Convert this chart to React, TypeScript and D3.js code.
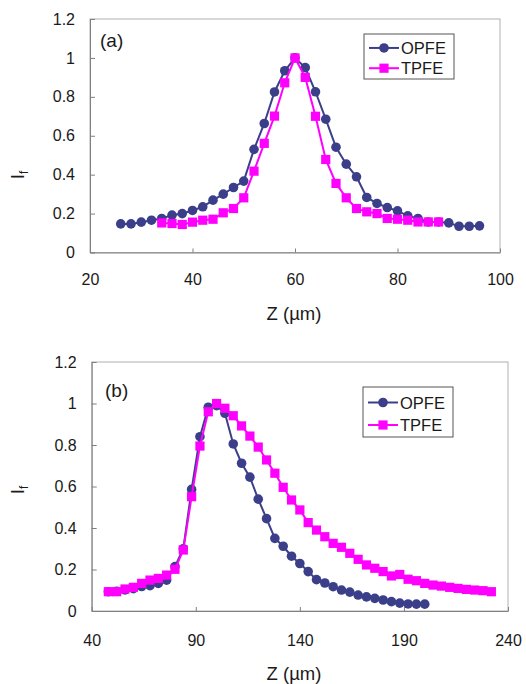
import React, { useEffect, useRef } from 'react';
import * as d3 from 'd3';

// panel (a)
const aOpfeZ = [26, 28, 30, 32, 34, 36, 38, 40, 42, 44, 46, 48, 50, 52, 54, 56, 58, 60, 62, 64, 66, 68, 70, 72, 74, 76, 78, 80, 82, 84, 86, 88, 90, 92, 94, 96];
const aOpfeI = [0.147, 0.147, 0.156, 0.166, 0.175, 0.192, 0.2, 0.216, 0.235, 0.269, 0.3, 0.334, 0.367, 0.53, 0.663, 0.825, 0.934, 1.0, 0.95, 0.826, 0.685, 0.541, 0.454, 0.389, 0.283, 0.252, 0.231, 0.214, 0.188, 0.175, 0.157, 0.157, 0.152, 0.135, 0.135, 0.137];
const aTpfeZ = [34, 36, 38, 40, 42, 44, 46, 48, 50, 52, 54, 56, 58, 60, 62, 64, 66, 68, 70, 72, 74, 76, 78, 80, 82, 84, 86, 88];
const aTpfeI = [0.152, 0.149, 0.144, 0.156, 0.166, 0.171, 0.204, 0.226, 0.281, 0.418, 0.561, 0.701, 0.872, 1.0, 0.9, 0.7, 0.478, 0.355, 0.281, 0.226, 0.209, 0.2, 0.175, 0.171, 0.166, 0.157, 0.157, 0.157];
const aXTicks = [20, 40, 60, 80, 100];

// panel (b)
const bOpfeZ = [48, 52, 56, 60, 64, 68, 72, 76, 80, 84, 88, 92, 96, 100, 104, 108, 112, 116, 120, 124, 128, 132, 136, 140, 144, 148, 152, 156, 160, 164, 168, 172, 176, 180, 184, 188, 192, 196, 200];
const bOpfeI = [0.093, 0.095, 0.102, 0.108, 0.118, 0.122, 0.133, 0.149, 0.214, 0.3, 0.586, 0.84, 0.982, 0.99, 0.953, 0.805, 0.712, 0.645, 0.539, 0.445, 0.35, 0.312, 0.264, 0.229, 0.19, 0.151, 0.135, 0.117, 0.101, 0.091, 0.077, 0.068, 0.061, 0.053, 0.045, 0.038, 0.034, 0.033, 0.033];
const bTpfeZ = [48, 52, 56, 60, 64, 68, 72, 76, 80, 84, 88, 92, 96, 100, 104, 108, 112, 116, 120, 124, 128, 132, 136, 140, 144, 148, 152, 156, 160, 164, 168, 172, 176, 180, 184, 188, 192, 196, 200, 204, 208, 212, 216, 220, 224, 228, 232];
const bTpfeI = [0.093, 0.093, 0.106, 0.114, 0.133, 0.149, 0.157, 0.173, 0.201, 0.294, 0.551, 0.795, 0.96, 1.0, 0.977, 0.941, 0.892, 0.843, 0.79, 0.728, 0.664, 0.596, 0.535, 0.487, 0.426, 0.39, 0.358, 0.326, 0.307, 0.278, 0.249, 0.222, 0.206, 0.19, 0.169, 0.176, 0.153, 0.146, 0.133, 0.125, 0.12, 0.114, 0.109, 0.104, 0.101, 0.098, 0.093];
const bXTicks = [40, 90, 140, 190, 240];

const yTicks = [0, 0.2, 0.4, 0.6, 0.8, 1, 1.2];
const yTickLabels = ['0', '0.2', '0.4', '0.6', '0.8', '1', '1.2'];
const seriesNames = ['OPFE', 'TPFE'];

const OPFE_COL = '#3b3f8a';
const TPFE_COL = '#ff00ff';
const FONT = '"Liberation Sans", Arial, sans-serif';

const panels = [
  {
    tag: '(a)', tagX: 100, tagY: 47,
    xDomain: [20, 100], xTicks: aXTicks,
    left: 90, right: 500, top: 19, bottom: 252.5,
    xPad: 21, titleY: 320, yLabelY: 175,
    legend: { x: 364, y: 34, w: 90, h: 45 },
    series: [
      { z: aOpfeZ, v: aOpfeI, color: OPFE_COL, shape: 'circle' },
      { z: aTpfeZ, v: aTpfeI, color: TPFE_COL, shape: 'square' },
    ],
  },
  {
    tag: '(b)', tagX: 105, tagY: 397,
    xDomain: [40, 240], xTicks: bXTicks,
    left: 91.7, right: 508, top: 362, bottom: 611,
    xPad: 23.5, titleY: 680, yLabelY: 490,
    legend: { x: 363, y: 387, w: 90, h: 50 },
    series: [
      { z: bOpfeZ, v: bOpfeI, color: OPFE_COL, shape: 'circle' },
      { z: bTpfeZ, v: bTpfeI, color: TPFE_COL, shape: 'square' },
    ],
  },
];

function marker(g: any, shape: string, cx: number, cy: number, color: string) {
  if (shape === 'circle') {
    g.append('circle').attr('cx', cx).attr('cy', cy).attr('r', 4.8).attr('fill', color);
  } else {
    g.append('rect').attr('x', cx - 4.6).attr('y', cy - 4.6).attr('width', 9.2).attr('height', 9.2).attr('fill', color);
  }
}

function drawPanel(svg: any, p: any) {
  const g = svg.append('g');
  const x = d3.scaleLinear().domain(p.xDomain).range([p.left, p.right]);
  const y = d3.scaleLinear().domain([0, 1.2]).range([p.bottom, p.top]);

  g.append('rect')
    .attr('x', p.left).attr('y', p.top)
    .attr('width', p.right - p.left).attr('height', p.bottom - p.top)
    .attr('fill', 'none').attr('stroke', '#b0b0b0');

  const xAxis = d3.axisBottom(x).tickValues(p.xTicks).tickSizeInner(-4).tickSizeOuter(0)
    .tickPadding(p.xPad).tickFormat(d3.format('d'));
  const yAxis = d3.axisLeft(y).tickValues(yTicks).tickSizeInner(-5).tickSizeOuter(0)
    .tickPadding(15).tickFormat((d: any, i: number) => yTickLabels[i]);

  const styleAxis = (a: any) => {
    a.attr('font-family', FONT).attr('font-size', 16);
    a.select('.domain').attr('stroke', '#808080');
    a.selectAll('.tick line').attr('stroke', '#808080');
    a.selectAll('.tick text').attr('fill', '#1a1a1a');
  };
  g.append('g').attr('transform', `translate(0,${p.bottom})`).call(xAxis).call(styleAxis);
  g.append('g').attr('transform', `translate(${p.left},0)`).call(yAxis).call(styleAxis);

  const line = d3.line<[number, number]>().x(d => x(d[0])).y(d => y(d[1]));
  p.series.forEach((s: any) => {
    const pts: [number, number][] = s.z.map((z: number, i: number) => [z, s.v[i]]);
    g.append('path').attr('d', line(pts)).attr('fill', 'none')
      .attr('stroke', s.color).attr('stroke-width', 2);
    const mg = g.append('g');
    pts.forEach(d => marker(mg, s.shape, x(d[0]), y(d[1]), s.color));
  });

  // legend
  const L = p.legend;
  const lg = g.append('g');
  lg.append('rect').attr('x', L.x).attr('y', L.y).attr('width', L.w).attr('height', L.h)
    .attr('fill', '#fff').attr('stroke', '#555');
  p.series.forEach((s: any, i: number) => {
    const cy = L.y + L.h * (i === 0 ? 0.31 : 0.76);
    lg.append('line').attr('x1', L.x + 5).attr('x2', L.x + 35).attr('y1', cy).attr('y2', cy)
      .attr('stroke', s.color).attr('stroke-width', 2);
    marker(lg, s.shape, L.x + 20, cy, s.color);
    lg.append('text').attr('x', L.x + 37).attr('y', cy + 6)
      .attr('font-family', FONT).attr('font-size', 16.5).attr('fill', '#1a1a1a')
      .text(seriesNames[i]);
  });

  g.append('text').attr('x', p.tagX).attr('y', p.tagY)
    .attr('font-family', FONT).attr('font-size', 19).attr('fill', '#1a1a1a').text(p.tag);

  g.append('text').attr('x', 294).attr('y', p.titleY).attr('text-anchor', 'middle')
    .attr('font-family', FONT).attr('font-size', 18.5).attr('fill', '#1a1a1a').text('Z (µm)');

  const yl = g.append('text').attr('transform', `translate(24,${p.yLabelY}) rotate(-90)`)
    .attr('text-anchor', 'middle').attr('font-family', FONT).attr('font-size', 19).attr('fill', '#1a1a1a');
  yl.append('tspan').text('I');
  yl.append('tspan').attr('font-size', 12).attr('dy', 4).text('f');
}

export default function App() {
  const ref = useRef<SVGSVGElement>(null);
  useEffect(() => {
    const svg = d3.select(ref.current);
    svg.selectAll('*').remove();
    panels.forEach(p => drawPanel(svg, p));
  }, []);
  return (
    <svg ref={ref} width={526} height={684}
      style={{ position: 'absolute', left: 0, top: 0, background: '#fff' }} />
  );
}
